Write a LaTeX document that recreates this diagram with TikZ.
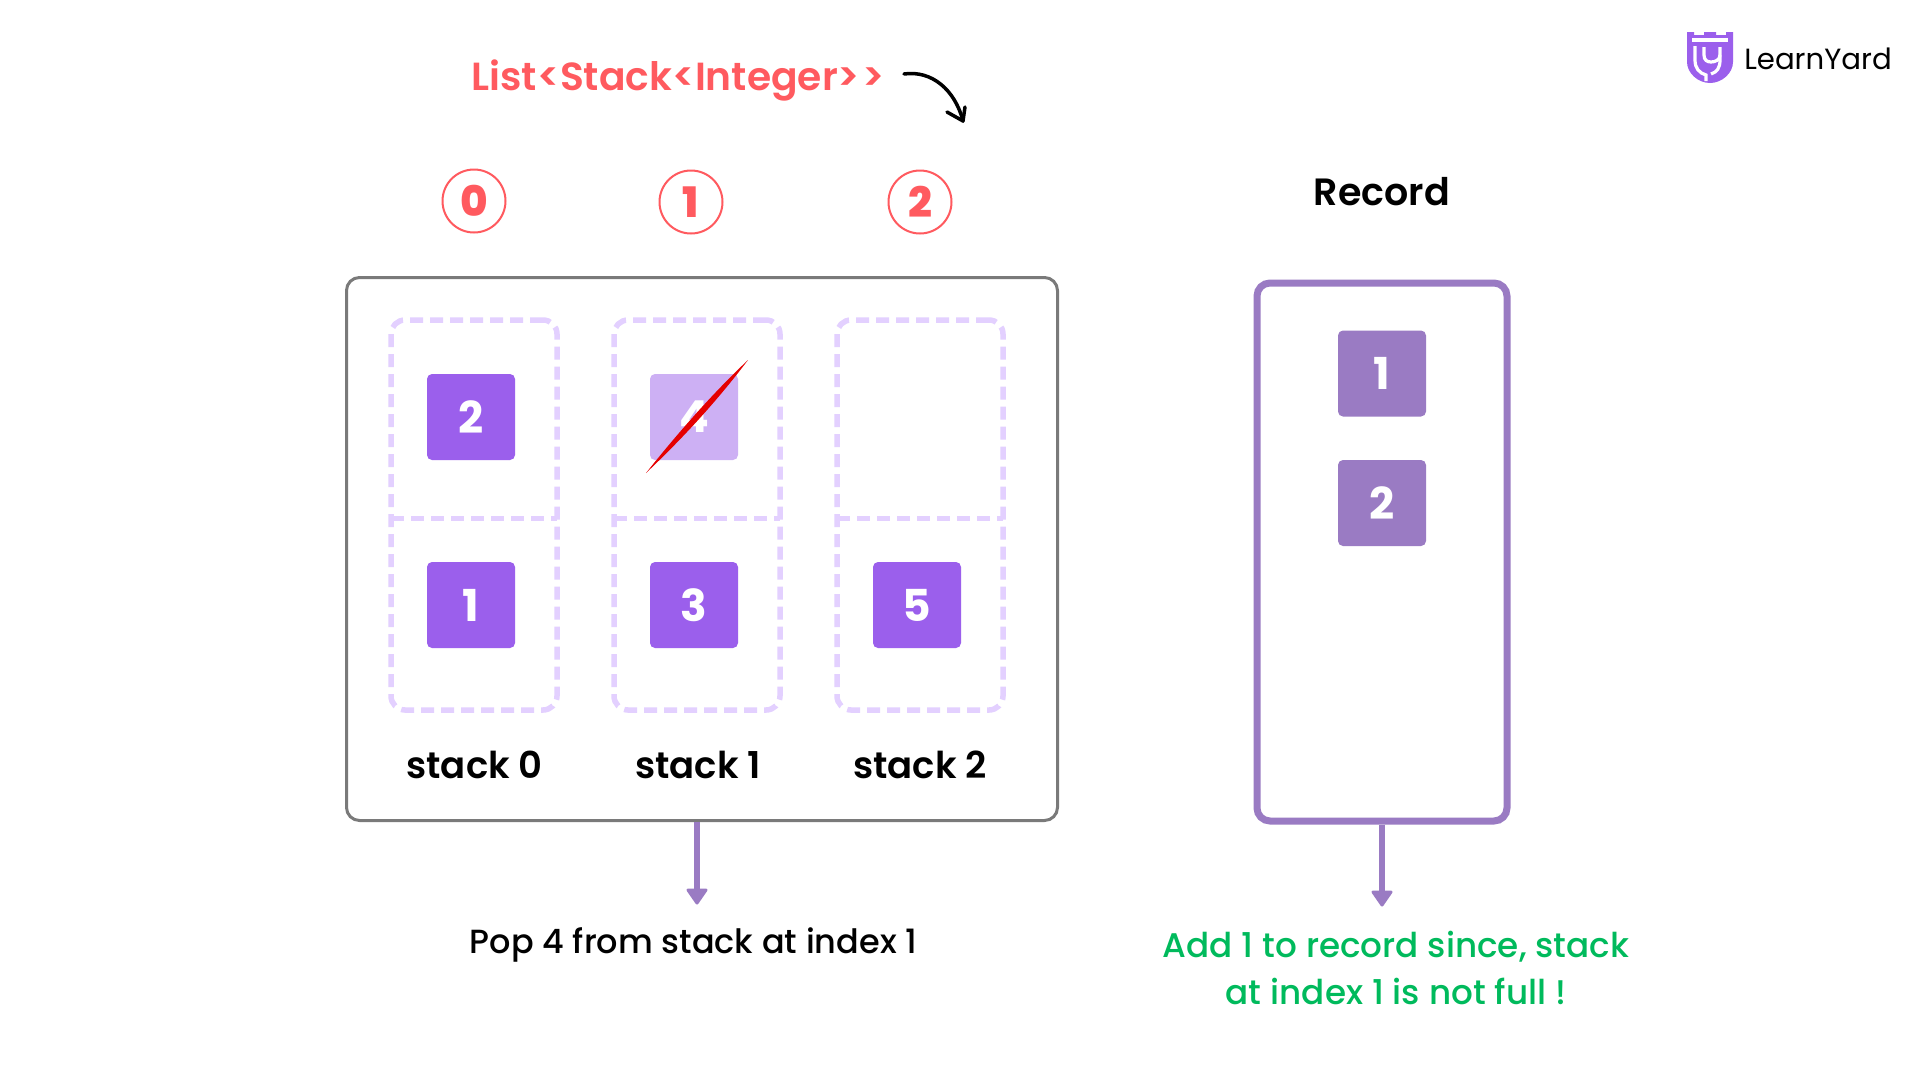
\documentclass[tikz,border=0pt]{standalone}
\usepackage{fontspec}
\setmainfont{Poppins}
\newfontfamily\popsemi{Poppins SemiBold}
\newfontfamily\popmed{Poppins Medium}
\newfontfamily\popxb{Poppins ExtraBold}
\definecolor{coral}{HTML}{FF5A5F}
\definecolor{vio}{HTML}{9B5FEC}
\definecolor{violight}{HTML}{CDB0F4}
\definecolor{dashv}{HTML}{E3D0FF}
\definecolor{mauve}{HTML}{9A7BC3}
\definecolor{okgreen}{HTML}{00BA5C}
\definecolor{framegray}{HTML}{7A7A7A}
\tikzset{
 frame/.style={draw=framegray,line width=3pt,rounded corners=13pt,fill=white,inner sep=0pt},
 recframe/.style={draw=mauve,line width=7pt,rounded corners=13pt,fill=white,inner sep=0pt},
 slot/.style={draw=dashv,line width=5.5pt,dash pattern=on 13pt off 7pt,rounded corners=14pt,inner sep=0pt,minimum width=166pt,minimum height=390pt},
 divider/.style={draw=dashv,line width=5pt,dash pattern=on 13pt off 7pt},
 cell/.style={fill=vio,rounded corners=5pt,text=white,minimum width=88pt,minimum height=86pt,inner sep=0pt,font=\fontsize{44}{44}\selectfont\bfseries},
 reccell/.style={cell,fill=mauve},
 idx/.style={circle,draw=coral,line width=2pt,minimum size=63pt,inner sep=0pt,text=coral,font=\fontsize{42}{42}\selectfont\popxb},
 lab/.style={font=\fontsize{37}{37}\selectfont\popsemi,inner sep=0pt,text=black},
 note/.style={font=\fontsize{33.5}{33.5}\selectfont\popmed,inner sep=0pt},
 down/.style={draw=mauve,line width=5.5pt},
 downtip/.style={fill=mauve,draw=mauve,line width=3pt,line join=round},
 logomark/.style={draw=white,line width=3.2pt},
}
\begin{document}
\begin{tikzpicture}[x=1pt,y=-1pt]
\useasboundingbox (0,0) rectangle (1920,1080);
\fill[white] (0,0) rectangle (1920,1080);
% title
\node[inner sep=0pt,text=coral,font=\fontsize{39.2}{39.2}\selectfont\popsemi] (title) at (678,80) {List<Stack<Integer>\kern2pt>};
\coordinate (cs) at (904,74);
\coordinate (ce) at (963,121);
\draw[line width=3.5pt,line cap=round] (cs) .. controls (932,70) and (955,90) .. (ce);
\draw[line width=3.5pt,line cap=round,line join=round] (947,112) -- (ce) -- (965,107);
% indices
\node[idx] (i0) at (474,201) {0};
\node[idx] (i1) at (691,202) {1};
\node[idx] (i2) at (920,202) {2};
% main frame
\node[frame,minimum width=711pt,minimum height=543pt] (outer) at (702,549) {};
\node[slot] (s0) at (474,515) {};
\node[slot] (s1) at (697,515) {};
\node[slot] (s2) at (920,515) {};
\coordinate (d0a) at (391,518); \coordinate (d0b) at (557,518);
\coordinate (d1a) at (614,518); \coordinate (d1b) at (780,518);
\coordinate (d2a) at (837,518); \coordinate (d2b) at (1003,518);
\draw[divider] (d0a) -- (d0b);
\draw[divider] (d1a) -- (d1b);
\draw[divider] (d2a) -- (d2b);
\node[cell] (c2) at (471,417) {2};
\node[cell,fill=violight] (c4) at (694,417) {4};
\node[cell] (c1) at (471,605) {1};
\node[cell] (c3) at (694,605) {3};
\node[cell] (c5) at (917,605) {5};
% strike
\fill[red!90!black] (646,473) .. controls (677,434) and (711,395) .. (748,360) .. controls (717,401) and (683,438) .. (646,473) -- cycle;
\node[lab] (l0) at (474.5,765) {stack 0};
\node[lab] (l1) at (698,765) {stack 1};
\node[lab] (l2) at (920,765) {stack 2};
% record
\node[lab,font=\fontsize{38}{38}\selectfont\popsemi] (rt) at (1382,192) {Record};
\node[recframe,minimum width=250pt,minimum height=538pt] (rec) at (1382,552) {};
\node[reccell] (r1) at (1382,373.5) {1};
\node[reccell] (r2) at (1382,503) {2};
% arrows
\coordinate (a1) at (697,890);
\draw[down] (outer.south -| a1) -- (a1);
\fill[downtip] (688,890) -- (706,890) -- (697,903) -- cycle;
\coordinate (a2) at (1382,892);
\draw[down] (rec.south) -- (a2);
\fill[downtip] (1373,892) -- (1391,892) -- (1382,905) -- cycle;
\node[note] (n1) at (693.5,944.5) {Pop 4 from stack at index 1};
\node[note,text=okgreen,font=\fontsize{34.2}{34}\selectfont\popmed] (n2) at (1396,946.5) {Add 1 to record since, stack};
\node[note,text=okgreen,font=\fontsize{34.2}{34}\selectfont\popmed] (n3) at (1396,991) {at index 1 is not full !};
% logo
\fill[vio] (1687,32) -- (1694,32) -- (1694,35) -- (1704,35) -- (1704,32) -- (1716,32) -- (1716,35) -- (1726,35) -- (1726,32) -- (1733,32) -- (1733,62) .. controls (1733,73) and (1722,83) .. (1710,83) .. controls (1698,83) and (1687,73) .. (1687,62) -- cycle;
\draw[logomark] (1692,40) -- (1728,40);
\draw[logomark] (1695,46) -- (1695,60) .. controls (1695,68) and (1699,73) .. (1706,75) -- (1706,81);
\draw[logomark] (1704,47) -- (1704,55) .. controls (1704,60) and (1707,62) .. (1711,62) .. controls (1715,62) and (1720,60) .. (1720,55);
\draw[logomark] (1720,47) -- (1720,60) .. controls (1720,68) and (1717,72) .. (1711,74);
\node[inner sep=0pt,font=\fontsize{29.2}{29.2}\selectfont] (logo) at (1818,59) {LearnYard};
\end{tikzpicture}
\end{document}
